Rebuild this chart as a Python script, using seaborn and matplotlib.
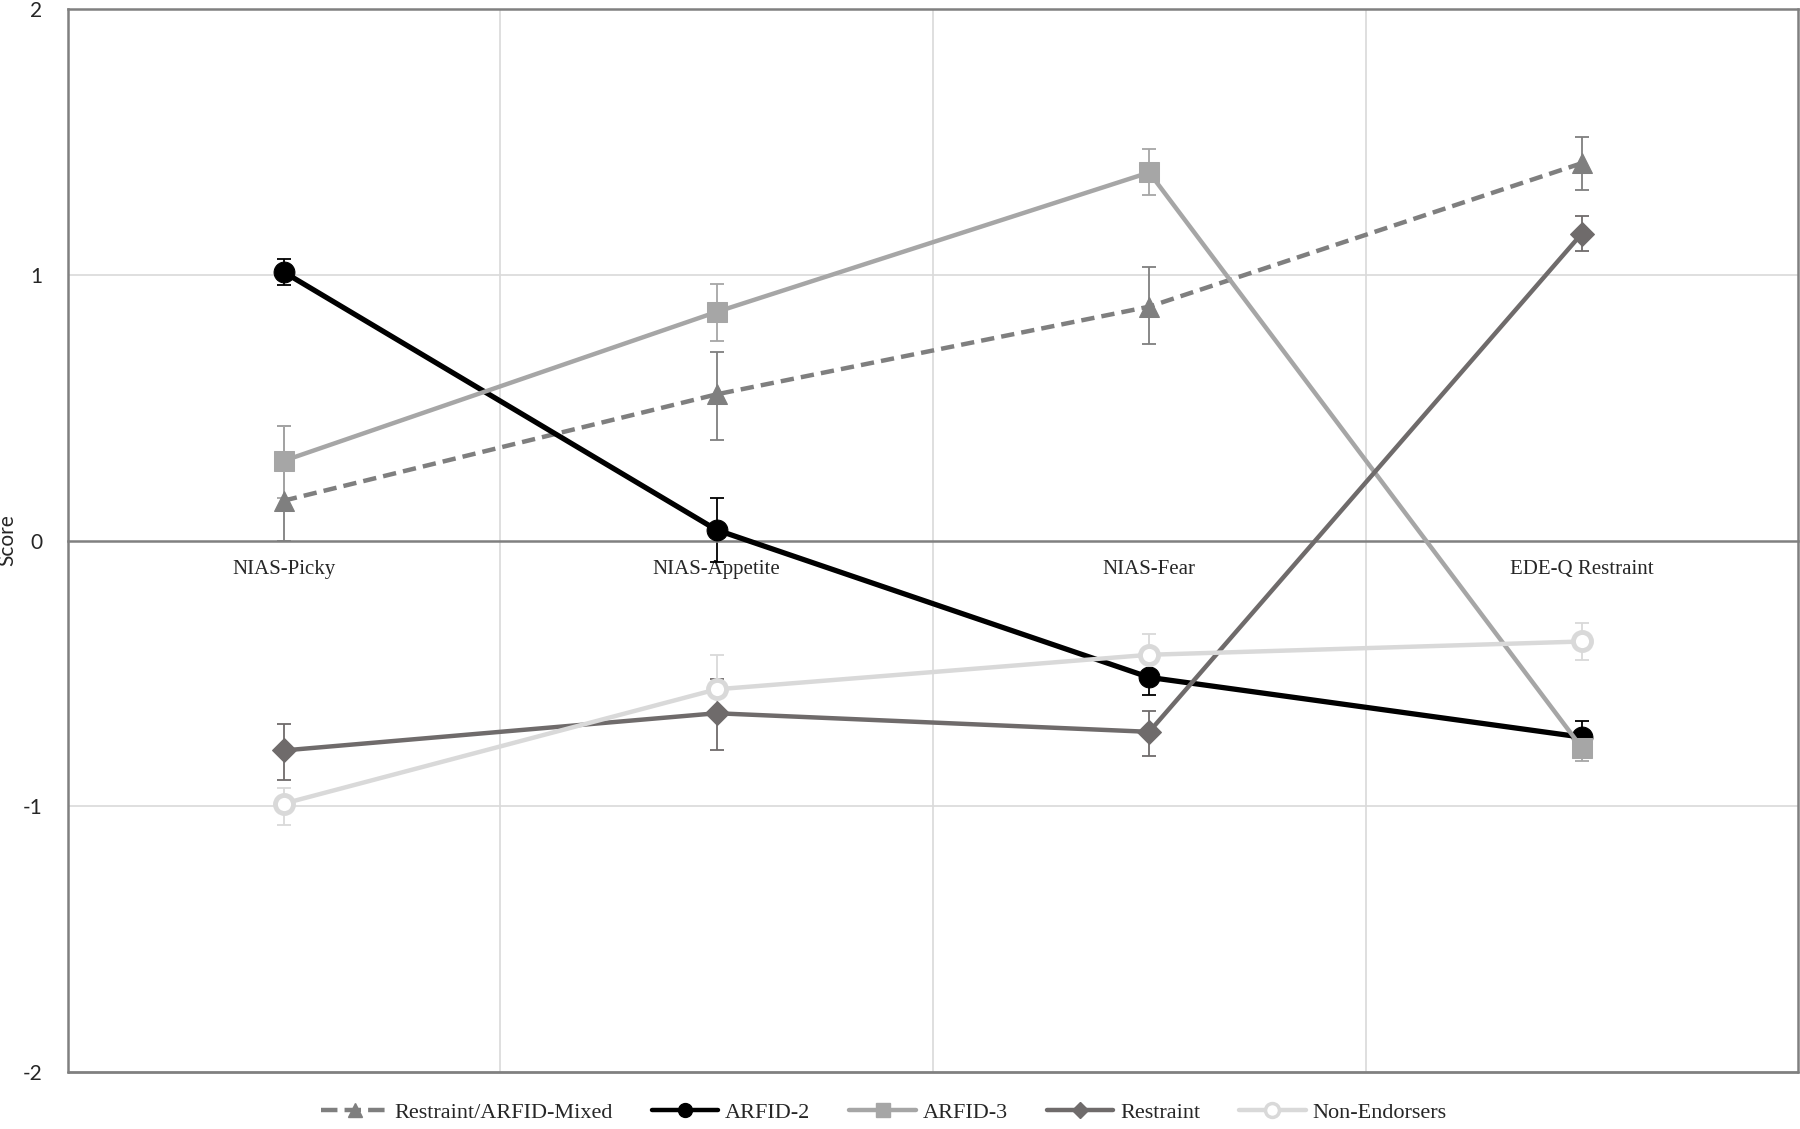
import numpy as np
import pandas as pd
import matplotlib
matplotlib.use("Agg")
import matplotlib.pyplot as plt
import seaborn as sns

# measures on the x axis
measures = ["NIAS-Picky", "NIAS-Appetite", "NIAS-Fear", "EDE-Q Restraint"]
groups = ["Restraint/ARFID-Mixed", "ARFID-2", "ARFID-3", "Restraint", "Non-Endorsers"]

# mean scores per group
mixed = [0.15, 0.55, 0.88, 1.42]
arfid2 = [1.01, 0.04, -0.515, -0.74]
arfid3 = [0.30, 0.86, 1.385, -0.78]
restraint = [-0.79, -0.65, -0.72, 1.155]
non_endorsers = [-0.99, -0.56, -0.43, -0.38]

# error bar ends (lower / upper) per group
mixed_lo = [0.00, 0.38, 0.74, 1.32]
mixed_hi = [0.43, 0.71, 1.03, 1.52]
arfid2_lo = [0.96, -0.08, -0.58, -0.78]
arfid2_hi = [1.06, 0.16, -0.45, -0.68]
arfid3_lo = [0.16, 0.75, 1.30, -0.83]
arfid3_hi = [0.43, 0.965, 1.475, -0.73]
restraint_lo = [-0.90, -0.79, -0.81, 1.09]
restraint_hi = [-0.69, -0.52, -0.64, 1.22]
non_lo = [-1.07, -0.65, -0.52, -0.45]
non_hi = [-0.93, -0.43, -0.35, -0.31]

means = [mixed, arfid2, arfid3, restraint, non_endorsers]
lows = [mixed_lo, arfid2_lo, arfid3_lo, restraint_lo, non_lo]
highs = [mixed_hi, arfid2_hi, arfid3_hi, restraint_hi, non_hi]

colors = {"Restraint/ARFID-Mixed": "#7f7f7f", "ARFID-2": "#000000", "ARFID-3": "#a6a6a6",
          "Restraint": "#6f6b6b", "Non-Endorsers": "#d9d9d9"}
markers = {"Restraint/ARFID-Mixed": "^", "ARFID-2": "o", "ARFID-3": "s",
           "Restraint": "D", "Non-Endorsers": "o"}
dashes = {"Restraint/ARFID-Mixed": (3, 1.6), "ARFID-2": "", "ARFID-3": "",
          "Restraint": "", "Non-Endorsers": ""}
msizes = {"Restraint/ARFID-Mixed": 15, "ARFID-2": 15, "ARFID-3": 14,
          "Restraint": 12, "Non-Endorsers": 13}

pos = np.arange(len(measures)) + 0.5
rows = []
for g, m in zip(groups, means):
    for p, v in zip(pos, m):
        rows.append({"group": g, "pos": p, "score": v})
df = pd.DataFrame(rows)

sns.set_style("white")
plt.rcParams["font.family"] = ["Liberation Serif", "DejaVu Serif"]

fig = plt.figure(figsize=(18, 11.29), dpi=100)
ax = fig.add_axes([0.0375, 0.0505, 0.9615, 0.9415])

# error bars first so lines sit on top
for g, m, lo, hi in zip(groups, means, lows, highs):
    m = np.array(m)
    yerr = [m - np.array(lo), np.array(hi) - m]
    ax.errorbar(pos, m, yerr=yerr, fmt="none", ecolor=colors[g],
                elinewidth=1.3, capsize=5, capthick=1.3, zorder=2)

sns.lineplot(data=df, x="pos", y="score", hue="group", style="group",
             palette=colors, markers=markers, dashes=dashes, hue_order=groups,
             style_order=groups, linewidth=3.2, ax=ax, legend=False, zorder=3)

for line, g in zip(ax.lines[-len(groups):], groups):
    line.set_markersize(msizes[g])
    line.set_markeredgecolor(colors[g])
    line.set_color(colors[g])
    if g == "ARFID-2":
        line.set_linewidth(3.8)
    if g == "Non-Endorsers":
        line.set_markerfacecolor("white")
        line.set_markeredgewidth(3.5)

ax.set_xlim(0, 4)
ax.set_ylim(-2, 2)
ax.set_yticks([-2, -1, 0, 1, 2])
ax.set_yticklabels(["-2", "-1", "0", "1", "2"])
ax.set_xticks(pos)
ax.set_xticklabels(measures)
ax.set_xticks([1, 2, 3], minor=True)
ax.tick_params(axis="x", which="both", length=0, pad=14, labelsize=15)
ax.tick_params(axis="y", length=0, pad=18, labelsize=15)
for t in ax.get_yticklabels():
    t.set_fontfamily("Lato")

ax.grid(False)
ax.grid(axis="x", which="minor", color="#d9d9d9", linewidth=1.2)
for yv in [-1, 1]:
    ax.axhline(yv, color="#d9d9d9", linewidth=1.2, zorder=0)
ax.axhline(-2, color="#808080", linewidth=2, zorder=1, clip_on=False)

for s in ["left", "top", "right", "bottom"]:
    ax.spines[s].set_color("#808080")
    ax.spines[s].set_linewidth(1.8)
ax.spines["bottom"].set_position(("data", 0))

ax.set_xlabel("")
ax.set_ylabel("Score", family="Lato", fontsize=15, labelpad=4)

handles = []
for g in groups:
    h, = ax.plot([], [], color=colors[g], marker=markers[g], linewidth=3.2,
                 markersize=10 if g != "Restraint" else 8,
                 linestyle="--" if g == "Restraint/ARFID-Mixed" else "-",
                 markerfacecolor="white" if g == "Non-Endorsers" else colors[g],
                 markeredgewidth=2.5 if g == "Non-Endorsers" else 1)
    handles.append(h)
fig.legend(handles, groups, loc="lower center", bbox_to_anchor=(0.491, -0.012),
           ncol=5, frameon=False, fontsize=16, handlelength=3.0, columnspacing=1.75,
           handletextpad=0.3)

plt.savefig("out.png", dpi=100)
